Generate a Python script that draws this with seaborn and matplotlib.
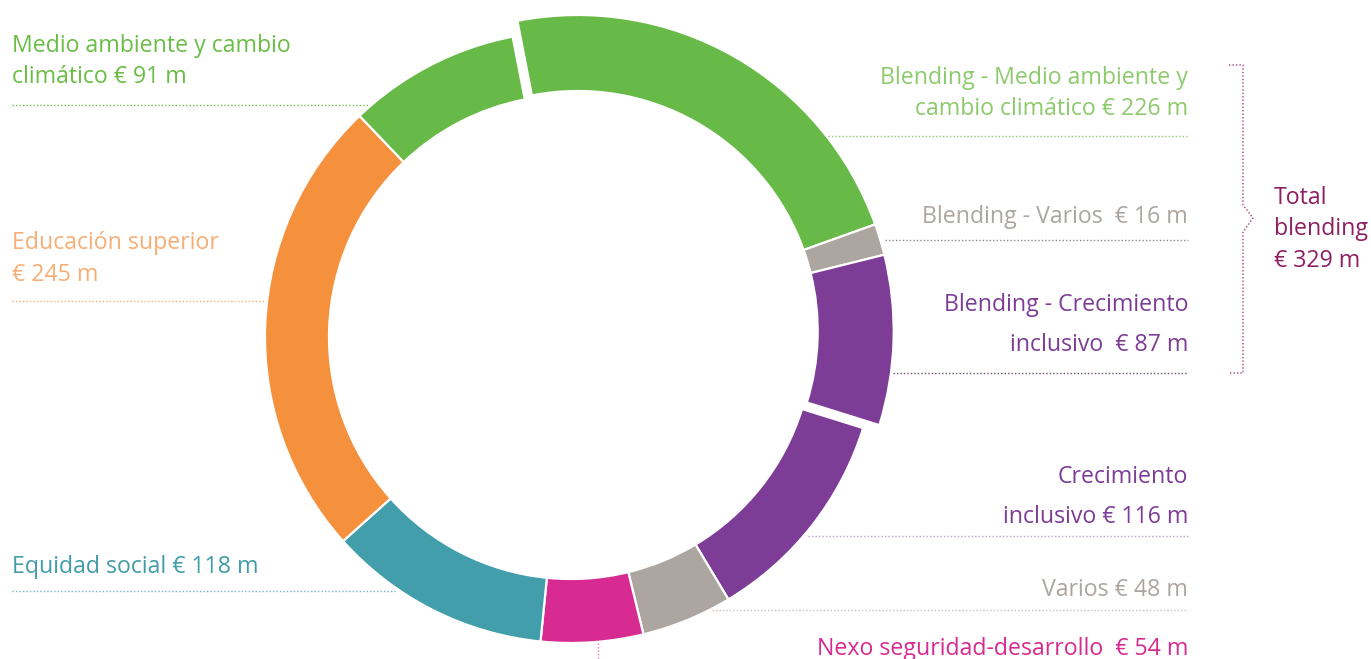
import numpy as np
import matplotlib
matplotlib.use("Agg")
import matplotlib.pyplot as plt
import seaborn as sns

# Values in € million, clockwise starting at the blending group
categories = ["Blending - Medio ambiente y cambio climático", "Blending - Varios",
              "Blending - Crecimiento inclusivo", "Crecimiento inclusivo", "Varios",
              "Nexo seguridad-desarrollo", "Equidad social", "Educación superior",
              "Medio ambiente y cambio climático"]
values = [226, 16, 87, 116, 48, 54, 118, 245, 91]
is_blending = [True, True, True, False, False, False, False, False, False]
wedge_colors = ["#67BA47", "#ADA5A0", "#7D3C96", "#7D3C96", "#ADA5A0",
                "#D82B91", "#429EAA", "#F5903C", "#67BA47"]
total_blending = sum(v for v, b in zip(values, is_blending) if b)

sns.set_theme(style="white")
plt.rcParams["font.family"] = ["Open Sans", "DejaVu Sans"]

W, H = 1371, 659
fig = plt.figure(figsize=(W / 100, H / 100), dpi=100)
ax = fig.add_axes([0, 0, 1, 1])


def py(y):
    # pixel row (from top) to data y
    return H - y


center = (571, py(337))
start = 101  # degrees, counterclockwise from +x

# ring without blending
cols = [c if not b else "none" for c, b in zip(wedge_colors, is_blending)]
wedges, _ = ax.pie(values, radius=306, center=center, startangle=start, counterclock=False,
                   colors=cols, wedgeprops=dict(width=64, edgecolor="white", linewidth=1.6))
for w, b in zip(wedges, is_blending):
    if b:
        w.set_visible(False)

# blending ring: a bit thicker and pulled out along its middle angle
frac = total_blending / sum(values)
mid = np.deg2rad(start - 360 * frac / 2)
shift = 9
bcenter = (center[0] + shift * np.cos(mid), center[1] + shift * np.sin(mid))
cols = [c if b else "none" for c, b in zip(wedge_colors, is_blending)]
wedges, _ = ax.pie(values, radius=316, center=bcenter, startangle=start, counterclock=False,
                   colors=cols, wedgeprops=dict(width=76, edgecolor="white", linewidth=1.6))
for w, b in zip(wedges, is_blending):
    if not b:
        w.set_visible(False)

ax.set_xlim(0, W)
ax.set_ylim(0, H)
ax.set_aspect("equal")
ax.axis("off")

fs = 16.7


def label(x, ys, lines, color, ha):
    for y, t in zip(ys, lines):
        ax.text(x, py(y), t, color=color, fontsize=fs, ha=ha, va="baseline")


def dots(x0, x1, y, color):
    ax.plot([x0, x1], [py(y), py(y)], color=color, lw=1, ls=(0, (1, 1.5)))


# left side
label(12, [52, 83], ["Medio ambiente y cambio", "climático € 91 m"], "#6ABD45", "left")
dots(12, 368, 105, "#6ABD45")
label(12, [249, 281], ["Educación superior", "€ 245 m"], "#F7AE76", "left")
dots(12, 265, 301, "#F7AE76")
label(12, [573], ["Equidad social € 118 m"], "#419DA8", "left")
dots(12, 395, 591, "#6FB6BF")

# right side
R = 1188
label(R, [84, 115], ["Blending - Medio ambiente y", "cambio climático € 226 m"], "#8DCA6C", "right")
dots(828, R, 136, "#8DCA6C")
label(R, [223], ["Blending - Varios  € 16 m"], "#ADA5A0", "right")
dots(885, R, 240, "#8F8682")
label(R, [311, 351], ["Blending - Crecimiento", "inclusivo  € 87 m"], "#7D3C96", "right")
dots(893, R, 373, "#6A5070")
label(R, [483, 523], ["Crecimiento", "inclusivo € 116 m"], "#7D3C96", "right")
dots(808, R, 536, "#B9A3C4")
label(R, [596], ["Varios € 48 m"], "#ADA5A0", "right")
dots(712, R, 610, "#C9BDBA")
label(R, [655], ["Nexo seguridad-desarrollo  € 54 m"], "#D82B91", "right")
ax.plot([598, 598], [py(643), py(659)], color="#E57AB6", lw=1, ls=(0, (1, 1.5)))

# bracket for blending total
bc = "#A0407A"
ax.plot([1229, 1243, 1243, 1253, 1243, 1243, 1229],
        [py(65), py(65), py(205), py(218), py(232), py(373), py(373)],
        color=bc, lw=1, ls=(0, (1, 1.5)))
label(1274, [204, 235, 267], ["Total", "blending", f"€ {total_blending} m"], "#8E1F62", "left")

fig.savefig("out.png", dpi=100)
